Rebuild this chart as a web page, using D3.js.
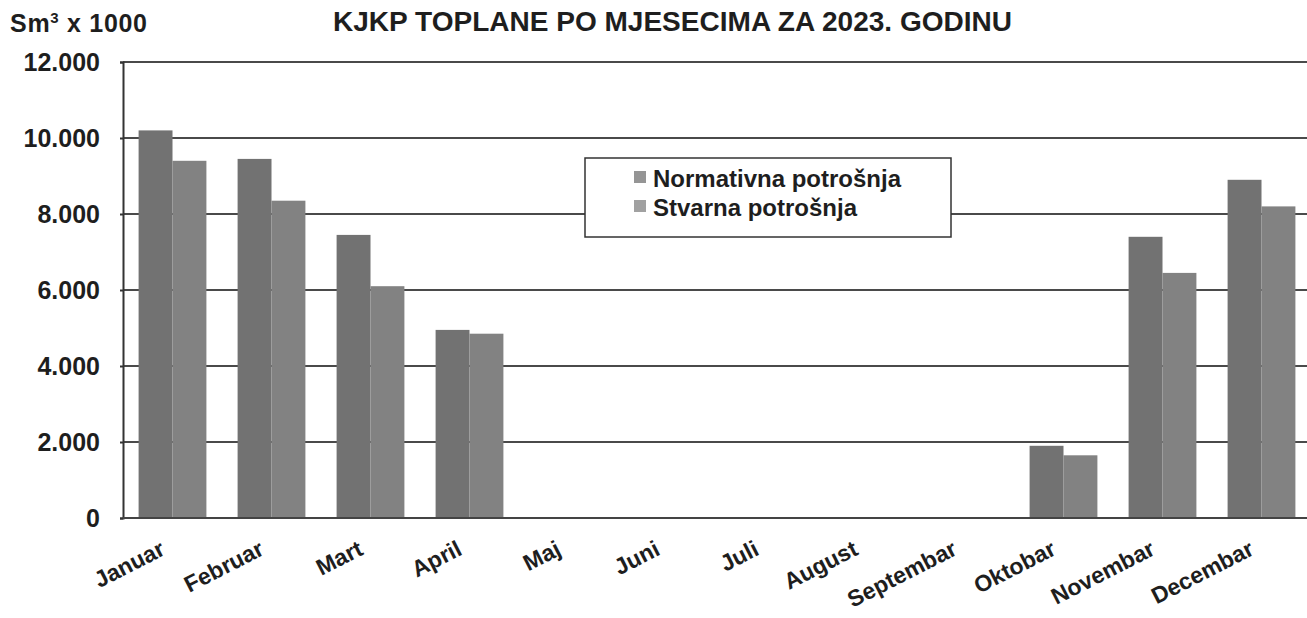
<!DOCTYPE html>
<html>
<head>
<meta charset="utf-8">
<script src="https://cdn.jsdelivr.net/npm/d3@7"></script>
<style>
  body { margin: 0; background: #fff; }
  text { font-family: "Liberation Sans", Arial, sans-serif; font-weight: bold; fill: #1e1e1e; }
</style>
</head>
<body>
<div id="chart"></div>
<script>
// data
var months = ["Januar", "Februar", "Mart", "April", "Maj", "Juni", "Juli",
              "August", "Septembar", "Oktobar", "Novembar", "Decembar"];
var normativna = [10200, 9450, 7450, 4950, 0, 0, 0, 0, 0, 1900, 7400, 8900];
var stvarna    = [9400, 8350, 6100, 4850, 0, 0, 0, 0, 0, 1650, 6450, 8200];
var seriesNames = ["Normativna potrošnja", "Stvarna potrošnja"];
var yTicks = [0, 2000, 4000, 6000, 8000, 10000, 12000];

var colors = ["#727272", "#828282"];

// set the dimensions and margins of the graph
var W = 1307, H = 618;
var margin = {top: 62, right: -4, bottom: 100, left: 123},
    width = W - margin.left - margin.right,
    height = H - margin.top - margin.bottom;

var svg0 = d3.select("#chart")
    .append("svg")
    .attr("width", W)
    .attr("height", H);

var svg = svg0.append("g")
    .attr("transform", "translate(" + margin.left + "," + margin.top + ")");

// scales
var x0 = d3.scaleBand()
    .domain(months)
    .range([0, width])
    .padding(0);

var x1 = d3.scaleBand()
    .domain(seriesNames)
    .range([0, x0.bandwidth()])
    .paddingInner(0)
    .paddingOuter(0.46);

var y = d3.scaleLinear()
    .domain([0, 12000])
    .range([height, 0]);

var fmt = function(v) { return d3.format(",")(v).replace(/,/g, "."); };

// gridlines
svg.append("g")
    .selectAll("line")
    .data(yTicks.filter(function(d) { return d > 0; }))
    .enter().append("line")
    .attr("x1", 0)
    .attr("x2", width)
    .attr("y1", function(d) { return y(d); })
    .attr("y2", function(d) { return y(d); })
    .style("stroke", "#4a4a4a")
    .style("stroke-width", "2px");

// y axis
var yAxis = svg.append("g")
    .call(d3.axisLeft(y).tickValues(yTicks).tickFormat(fmt).tickSize(3).tickPadding(20));
yAxis.select(".domain").style("stroke", "#333").style("stroke-width", "2px");
yAxis.selectAll(".tick line").style("stroke", "#333").style("stroke-width", "2px");
yAxis.selectAll("text")
    .style("font-size", "25px")
    .style("font-family", "'Liberation Sans', Arial, sans-serif")
    .style("font-weight", "bold")
    .style("fill", "#1e1e1e");

// bars
var rows = months.map(function(m, i) {
    return {month: m, values: [normativna[i], stvarna[i]]};
});

var groups = svg.append("g")
    .selectAll("g")
    .data(rows)
    .enter().append("g")
    .attr("transform", function(d) { return "translate(" + x0(d.month) + ",0)"; });

groups.selectAll("rect")
    .data(function(d) { return d.values.map(function(v, k) { return {key: seriesNames[k], k: k, v: v}; }); })
    .enter().append("rect")
    .filter(function(d) { return d.v > 0; })
    .attr("x", function(d) { return x1(d.key); })
    .attr("width", x1.bandwidth())
    .attr("y", function(d) { return y(d.v); })
    .attr("height", function(d) { return height - y(d.v); })
    .style("fill", function(d) { return colors[d.k]; });

// x axis line
svg.append("line")
    .attr("x1", 0).attr("x2", width)
    .attr("y1", height).attr("y2", height)
    .style("stroke", "#444")
    .style("stroke-width", "2px");

// month labels, rotated
svg.append("g")
    .selectAll("text")
    .data(months)
    .enter().append("text")
    .attr("transform", function(d) {
        return "translate(" + (x0(d) + x0.bandwidth() / 2 - 6) + "," + (height + 36) + ") rotate(-27)";
    })
    .attr("text-anchor", "end")
    .style("font-size", "23px")
    .text(function(d) { return d; });

// legend
var lg = svg0.append("g").attr("transform", "translate(585,158)");
lg.append("rect")
    .attr("width", 366)
    .attr("height", 79)
    .style("fill", "#fff")
    .style("stroke", "#333")
    .style("stroke-width", "1.5px");
seriesNames.forEach(function(s, i) {
    lg.append("rect")
        .attr("x", 49)
        .attr("y", 13 + i * 29)
        .attr("width", 12)
        .attr("height", 12)
        .style("fill", colors[i])
        .style("opacity", 0.75);
    lg.append("text")
        .attr("x", 68)
        .attr("y", 29 + i * 29)
        .style("font-size", "24px")
        .text(s);
});

// title and unit
svg0.append("text")
    .attr("x", 333)
    .attr("y", 31)
    .attr("textLength", 679)
    .attr("lengthAdjust", "spacingAndGlyphs")
    .style("font-size", "27px")
    .text("KJKP TOPLANE PO MJESECIMA ZA 2023. GODINU");

var unit = svg0.append("text")
    .attr("x", 10)
    .attr("y", 32)
    .attr("textLength", 137)
    .style("font-size", "25px");
unit.append("tspan").text("Sm");
unit.append("tspan").attr("dy", -9).style("font-size", "15px").text("3");
unit.append("tspan").attr("dy", 9).text(" x 1000");
</script>
</body>
</html>
